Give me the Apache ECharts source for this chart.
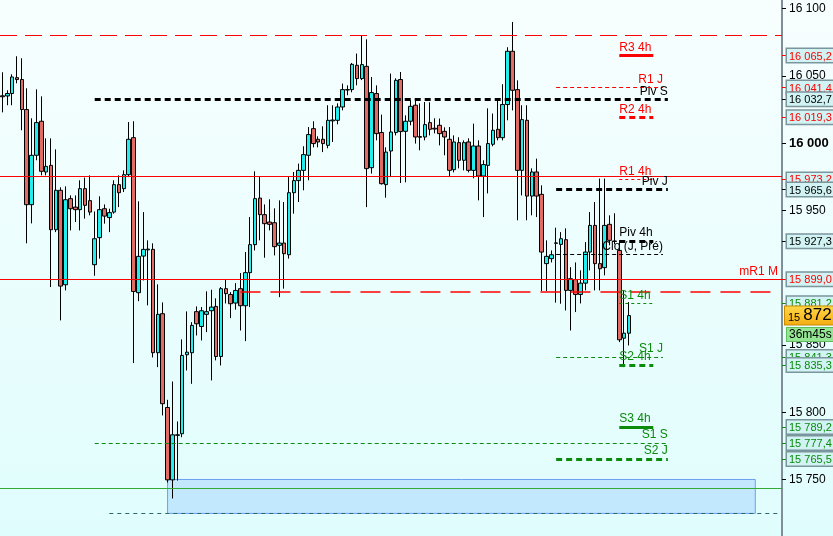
<!DOCTYPE html>
<html><head><meta charset="utf-8">
<script src="https://cdn.jsdelivr.net/npm/echarts@6/dist/echarts.min.js"></script>
<style>html,body{margin:0;padding:0;background:#fff;}#c{width:833px;height:536px;}</style>
</head><body><div id="c"></div>
<script>
// ---------- DATA ----------
const SLOTS = 161;
const categories = Array.from({length: SLOTS}, (_, i) => String(i));

const opens = [16035.3,16035.2,16037.0,16048.8,16047.4,16025.1,15954.4,15991.1,16016.4,15978.7,
15983.6,15935.8,15965.1,15894.9,15958.9,15952.6,15950.7,15966.3,15957.4,15909.8,
15929.9,15951.4,15944.8,15948.9,15969.3,15966.3,15976.7,16004.2,15889.0,15916.2,
15920.8,15921.2,15844.4,15873.4,15803.7,15749.9,15783.0,15784.2,15842.9,15844.4,
15874.9,15863.9,15872.9,15875.6,15878.8,15841.6,15892.0,15887.7,15881.3,15892.0,
15879.3,15903.9,15924.7,15959.3,15947.0,15941.5,15941.0,15924.2,15925.9,15917.2,
15963.3,15972.3,15979.9,15991.1,16010.9,16003.0,16003.0,15998.5,16016.7,16017.1,
16027.0,16039.6,16039.9,16058.0,16048.1,16057.2,15981.9,16037.0,16008.0,15969.3,
15994.3,16008.0,16047.4,16008.9,16016.4,16028.3,16005.0,16004.7,16015.4,16011.2,
16013.4,16008.9,16003.0,15980.4,16000.5,15987.4,16001.0,15979.9,15998.0,15975.7,
15983.6,15999.3,16010.4,16004.2,16028.8,16068.4,16039.9,15979.9,16017.1,15960.8,
15978.7,15962.1,15910.6,15914.3,15926.0,15924.9,15928.4,15890.7,15898.7,15887.7,
15896.1,15919.2,15939.0,15910.6,15907.6,15939.8,15927.4,15920.4,15855.2,15858.9];
const closes = [16034.6,16037.0,16049.3,16047.4,16025.1,15954.4,15991.1,16015.4,15979.2,15982.9,
15935.8,15965.1,15893.9,15958.1,15951.4,15950.7,15966.3,15953.9,15948.9,15929.1,
15950.7,15945.9,15948.5,15969.3,15963.3,15976.7,16003.0,15889.9,15916.0,15921.2,
15921.4,15844.4,15872.9,15806.5,15749.9,15783.4,15783.4,15842.4,15844.8,15864.7,
15865.9,15875.6,15874.9,15878.3,15841.6,15892.0,15888.3,15880.8,15890.7,15879.3,
15903.9,15924.7,15958.9,15947.0,15940.3,15939.8,15923.2,15925.9,15918.0,15963.3,
15972.3,15979.9,15991.6,16006.5,15999.8,16001.0,15999.8,16017.1,16017.3,16027.0,
16039.9,16039.9,16058.7,16048.1,16058.5,15981.2,16037.7,16007.2,15970.0,15993.5,
16008.4,16046.8,16008.7,16016.4,16027.5,16004.7,16004.5,16013.9,16010.4,16010.6,
16007.2,16004.7,15979.9,16001.0,15987.4,16000.5,15979.9,15998.0,15975.7,15984.2,
15999.8,16009.7,16004.2,16028.8,16068.4,16039.4,15979.9,16017.6,15960.8,15978.7,
15960.8,15919.2,15916.0,15917.2,15925.7,15929.1,15890.7,15899.4,15887.7,15896.1,
15919.2,15939.0,15910.6,15906.8,15939.0,15927.9,15927.1,15854.0,15858.9,15872.0];
const lows = [16023.0,16028.3,16028.3,16044.6,16009.7,15925.7,15940.5,15987.4,15976.2,15976.2,
15893.2,15934.0,15868.4,15890.7,15935.3,15941.5,15935.3,15944.0,15946.5,15901.6,
15914.3,15940.3,15934.0,15947.7,15952.6,15963.8,15974.9,15836.7,15882.7,15898.1,
15879.6,15840.9,15833.7,15797.8,15747.9,15736.1,15749.4,15781.6,15831.2,15821.3,
15857.2,15853.5,15859.7,15823.8,15838.7,15834.9,15881.0,15870.1,15876.4,15860.9,
15853.0,15878.3,15920.4,15927.9,15915.0,15935.3,15916.7,15885.7,15892.0,15914.3,
15947.7,15956.4,15965.1,15972.5,15997.0,15997.0,15993.5,15996.3,16001.0,16014.1,
16024.5,16035.7,16037.9,16043.1,16047.0,15952.6,15977.5,16002.2,15969.3,15959.6,
15974.9,16005.9,15970.5,15971.0,16013.4,15999.8,15994.8,16002.2,16005.9,16007.4,
15998.5,15991.1,15974.9,15978.4,15981.4,15979.9,15978.4,15974.0,15957.6,15945.2,
15962.8,15997.8,16002.2,16002.2,16017.1,16024.5,15942.8,15961.3,15942.8,15946.5,
15945.2,15890.2,15890.2,15911.5,15881.6,15880.8,15875.8,15860.9,15874.6,15881.0,
15890.7,15905.6,15890.7,15890.7,15901.9,15924.2,15925.0,15852.3,15833.7,15849.8];
const highs = [16052.8,16039.4,16051.3,16064.7,16063.2,16040.9,16018.6,16040.1,16034.9,16003.7,
16003.7,15995.5,15967.3,15968.0,15961.3,15961.3,15972.5,15974.5,15976.2,15949.4,
15960.6,15954.6,15951.4,15972.5,15976.2,15979.9,16015.8,16016.4,15956.9,15948.9,
15927.9,15925.7,15895.2,15881.8,15809.4,15823.0,15793.3,15854.3,15875.1,15867.1,
15878.8,15878.3,15890.0,15891.2,15884.8,15893.2,15898.9,15889.4,15896.1,15903.6,
15919.2,15945.2,15979.2,15974.9,15954.6,15958.4,15951.7,15957.6,15956.4,15974.9,
15978.7,15984.9,15997.8,16012.1,16016.4,16005.2,16012.6,16028.3,16028.3,16029.7,
16044.4,16043.1,16059.7,16066.7,16080.3,16077.3,16049.3,16043.1,16021.3,15997.0,
16051.8,16048.3,16053.0,16020.8,16032.0,16033.2,16029.7,16030.7,16030.5,16018.6,
16018.4,16011.9,16012.1,16005.9,16004.5,16002.2,16003.7,16014.6,16002.2,15987.4,
16026.0,16022.1,16032.0,16043.9,16071.4,16090.2,16046.8,16028.3,16028.3,15981.4,
15988.6,15968.8,15927.9,15920.4,15937.3,15934.0,15936.8,15908.0,15911.5,15905.6,
15926.6,15948.9,15956.4,15973.8,15973.8,15946.5,15948.0,15927.9,15890.7,15882.0];

// pivot / level segments
const levelNames  = ['R3 4h','R1 J','Piv S','R2 4h','R1 4h','Piv J','Piv 4h','Clo (J, Pré)','S1 4h','S1 J','S2 4h','S3 4h','S1 S','S2 J'];
const levelValues = [16065.2,16041.4,16032.7,16019.3,15973.2,15965.6,15927.3,15917.2,15881.2,15841.3,15835.3,15789.2,15777.4,15765.5];
const levelFrom   = ['127','114','19','127','127','114','127','114','127','114','127','127','19','114'];
const levelTo     = ['134','136','137','134','134','137','134','136','134','136','134','134','137','137'];
const levelKind   = ['4h','J','S','4h','4h','J','4h','J','4h','J','4h','4h','S','J'];

// unlabeled full-width levels
const monthR1 = 15899.0;          // mR1 M
const topDashed = 16080.3;
const redSolid = 15975.5;
const redDashed = 15889.5;
const greenSolid = 15743.5;
const dottedLow = 15725.0;
const zoneTop = 15750.2, zoneBottom = 15725.0;
const lastPrice = 15872;
const countdown = '36m45s';

// right axis
const plainTicks = [16100,16050,16000,15950,15850,15800,15750];
const redBoxes   = [16065.2,16041.4,16019.3,15973.2,15899.0];
const blackBoxes = [16032.7,15965.6,15927.3,15917.2];
const greenBoxes = [15881.2,15841.3,15835.3,15789.2,15777.4,15765.5];

// ---------- STYLE ----------
const RED = '#ff0000', BLACK = '#000000', GREEN = '#0b8a0b';
const FONT = 'Liberation Sans, Arial, sans-serif';
function fmt(v, dec) {
  const s = v.toFixed(dec);
  const parts = s.split('.');
  const ip = parts[0].replace(/\B(?=(\d{3})+(?!\d))/g, ' ');
  return parts.length > 1 ? ip + ',' + parts[1] : ip;
}
function colorOf(name) {
  if (name.startsWith('R')) return RED;
  if (name.startsWith('S')) return GREEN;
  return BLACK;
}
function lineStyleOf(name) {
  const c = colorOf(name);
  if (name === 'R3 4h' || name === 'S3 4h') return {color: c, width: 3, type: 'solid'};
  if (name === 'R1 4h' || name === 'S1 4h') return {color: c, width: 1, type: [3, 3]};
  if (name === 'R1 J' || name === 'Clo (J, Pré)' || name === 'S1 J' || name === 'S1 S') return {color: c, width: 1, type: [4, 3]};
  return {color: c, width: 3, type: [6, 4]};
}

const markLines = [];
levelNames.forEach((n, k) => {
  const v = levelValues[k];
  const pos = levelKind[k] === '4h' ? 'insideStartTop' : 'insideEndTop';
  markLines.push([
    {coord: [levelFrom[k], v], lineStyle: lineStyleOf(n),
     label: {show: true, formatter: n, position: pos, color: colorOf(n), fontSize: 12, fontFamily: FONT, distance: [0, 2]}},
    {coord: [levelTo[k], v]}
  ]);
});
markLines.push({yAxis: topDashed, lineStyle: {color: RED, width: 1, type: [17, 8]}, label: {show: false}});
markLines.push({yAxis: redSolid, lineStyle: {color: RED, width: 1, type: 'solid'}, label: {show: false}});
markLines.push({yAxis: monthR1, lineStyle: {color: RED, width: 1, type: 'solid'},
  label: {show: true, formatter: 'mR1 M', position: 'insideEndTop', color: RED, fontSize: 12, fontFamily: FONT, distance: [4, 2]}});
markLines.push([{coord: ['49', redDashed], lineStyle: {color: RED, width: 1.5, type: [20, 10]}, label: {show: false}}, {coord: ['160', redDashed]}]);
markLines.push({yAxis: greenSolid, lineStyle: {color: '#33aa33', width: 1, type: 'solid'}, label: {show: false}});
markLines.push([{coord: ['22', dottedLow], lineStyle: {color: '#2a6a6a', width: 1, type: [4, 4]}, label: {show: false}}, {coord: ['160', dottedLow]}]);
const priceParts = fmt(lastPrice, 0).split(' ');
markLines.push({yAxis: lastPrice, lineStyle: {color: 'rgba(0,0,0,0)', width: 1},
  label: {show: true, position: 'end', distance: 3, formatter: '{s|' + priceParts[0] + '}{b|' + priceParts[1] + ',}',
    backgroundColor: {type: 'linear', x: 0, y: 0, x2: 0, y2: 1, colorStops: [{offset: 0, color: '#ffd84a'}, {offset: 1, color: '#f5ac10'}]},
    borderColor: '#c98a00', borderWidth: 1, padding: [0, 2, 0, 3],
    rich: {s: {fontSize: 11, color: '#000', fontFamily: FONT, padding: [4, 3, 0, 0]}, b: {fontSize: 17, color: '#000', fontFamily: FONT, lineHeight: 18}}}});
markLines.push({yAxis: lastPrice, lineStyle: {color: 'rgba(0,0,0,0)', width: 1},
  label: {show: true, position: 'end', distance: 5, offset: [0, 19], formatter: countdown, fontSize: 12, fontFamily: FONT, color: '#000',
    backgroundColor: '#94e694', borderColor: '#5fbf5f', borderWidth: 1, padding: [1, 2, 0, 2]}});

const boxRich = (c) => ({color: c, fontSize: 11, fontFamily: FONT, backgroundColor: '#d2f3f3', borderColor: '#7b959c', borderWidth: 1.5, padding: [2, 4, 0, 2], lineHeight: 12});

function axisFormatter(v) {
  const r = Math.round(v * 10) / 10;
  if (plainTicks.indexOf(r) >= 0) {
    return r === 16000 ? '{bold|' + fmt(r, 0) + '}' : '{p|' + fmt(r, 0) + '}';
  }
  if (redBoxes.indexOf(r) >= 0) return '{r|' + fmt(r, 1) + '}';
  if (greenBoxes.indexOf(r) >= 0) return '{g|' + fmt(r, 1) + '}';
  return '{k|' + fmt(r, 1) + '}';
}
const richAll = {
  p: {color: '#000', fontSize: 12, fontFamily: FONT, padding: [0, 0, 0, 2]},
  bold: {color: '#000', fontSize: 13, fontWeight: 'bold', fontFamily: FONT, padding: [0, 0, 0, 2]},
  r: boxRich(RED), g: boxRich(GREEN), k: boxRich(BLACK)
};
const Y_MIN = 15708.2, Y_MAX = 16106.5;
function yAx(labels, tickColor, showLine) {
  return {
    type: 'value', position: 'right', min: Y_MIN, max: Y_MAX, offset: 0,
    axisLine: {show: showLine, lineStyle: {color: '#7f8f98', width: 2}},
    splitLine: {show: false},
    axisTick: {show: true, customValues: labels, length: 4, lineStyle: {color: tickColor, width: 1}},
    axisLabel: {show: true, customValues: labels, margin: 5, formatter: axisFormatter, rich: richAll}
  };
}

const option = {
  animation: false,
  backgroundColor: {type: 'linear', x: 0, y: 0, x2: 0, y2: 1, colorStops: [{offset: 0, color: '#f7fefe'}, {offset: 1, color: '#e0fdfd'}]},
  grid: {left: 0, right: 51, top: 0, bottom: 0, containLabel: false, outerBoundsMode: 'none'},
  xAxis: {type: 'category', data: categories, show: false, boundaryGap: true},
  yAxis: [
    yAx(greenBoxes, GREEN, false),
    yAx(redBoxes, RED, false),
    yAx(plainTicks.concat(blackBoxes), '#000', true)
  ],
  series: [{
    type: 'candlestick',
    yAxisIndex: 2,
    data: opens.map((o, i) => [o, closes[i], lows[i], highs[i]]),
    barWidth: 4,
    itemStyle: {color: '#22eeee', color0: '#e36b66', borderColor: '#000', borderColor0: '#000', borderColorDoji: '#000', borderWidth: 1},
    markLine: {symbol: 'none', silent: true, animation: false, data: markLines},
    markArea: {silent: true, itemStyle: {color: 'rgba(170,215,255,0.55)', borderColor: '#6b9ff0', borderWidth: 1},
      data: [[{coord: ['34', zoneTop]}, {coord: ['155', zoneBottom]}]]}
  }]
};
const chart = echarts.init(document.getElementById('c'));
chart.setOption(option);
</script>
</body></html>
